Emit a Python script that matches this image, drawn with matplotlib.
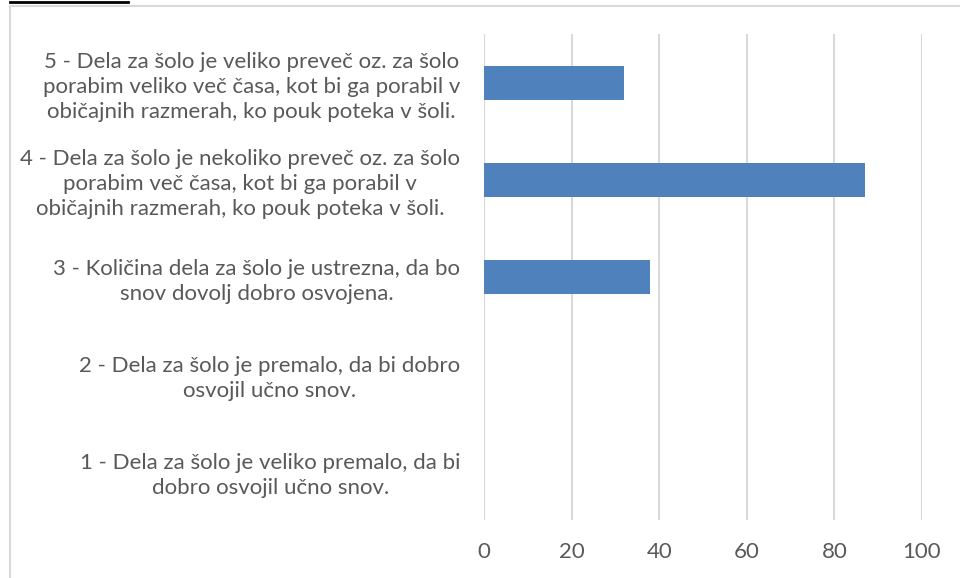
import matplotlib
matplotlib.use('Agg')
import matplotlib.pyplot as plt
from matplotlib.lines import Line2D

plt.rcParams['font.family'] = ['Lato', 'DejaVu Sans']

categories = [
    '1 - Dela za šolo je veliko premalo, da bi\ndobro osvojil učno snov.',
    '2 - Dela za šolo je premalo, da bi dobro\nosvojil učno snov.',
    '3 - Količina dela za šolo je ustrezna, da bo\nsnov dovolj dobro osvojena.',
    '4 - Dela za šolo je nekoliko preveč oz. za šolo\nporabim več časa, kot bi ga porabil v\nobičajnih razmerah, ko pouk poteka v šoli.',
    '5 - Dela za šolo je veliko preveč oz. za šolo\nporabim veliko več časa, kot bi ga porabil v\nobičajnih razmerah, ko pouk poteka v šoli.',
]
values = [0, 0, 38, 87, 32]
xticks = [0, 20, 40, 60, 80, 100]

text_col = '#595959'
grid_col = '#D9D9D9'

fig = plt.figure(figsize=(9.6, 5.78), dpi=100)
ax = fig.add_axes([484 / 960, 1 - 520 / 578, (922 - 484) / 960, (520 - 34) / 578])

ypos = range(len(categories))
ax.barh(ypos, values, height=0.35, color='#4F81BD', linewidth=0, zorder=3)

ax.set_xlim(0, 100)
ax.set_ylim(-0.5, len(categories) - 0.5)
ax.set_xticks(xticks)
ax.set_xticklabels([str(t) for t in xticks])
ax.set_yticks(list(ypos))
ax.set_yticklabels(categories, multialignment='center', linespacing=1.3)
ax.tick_params(axis='y', length=0, pad=17, labelsize=16, labelcolor=text_col)
ax.tick_params(axis='x', length=0, pad=16, labelsize=16, labelcolor=text_col)
ax.grid(axis='x', color=grid_col, linewidth=1.5, zorder=0)
for s in ax.spines.values():
    s.set_visible(False)

# chart frame and stray underline from the document
fig.add_artist(Line2D([10 / 960, 1], [1 - 6 / 578, 1 - 6 / 578], color=grid_col, lw=1.5))
fig.add_artist(Line2D([10 / 960, 10 / 960], [0, 1 - 6 / 578], color=grid_col, lw=1.5))
fig.add_artist(Line2D([10 / 960, 128 / 960], [1 - 1.5 / 578, 1 - 1.5 / 578], color='black', lw=2))

fig.savefig('out.png', dpi=100)
